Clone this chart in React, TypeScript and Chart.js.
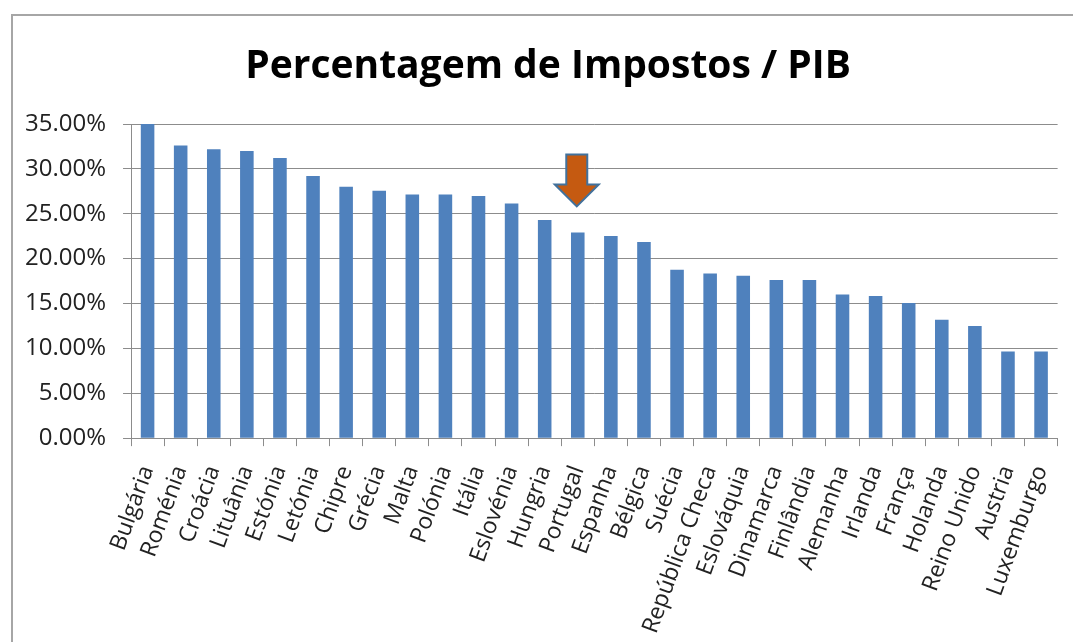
import React, { useEffect, useRef } from "react";
import { Chart, registerables } from "chart.js";

Chart.register(...registerables);

const categories: string[] = [
  "Bulgária", "Roménia", "Croácia", "Lituânia", "Estónia", "Letónia", "Chipre",
  "Grécia", "Malta", "Polónia", "Itália", "Eslovénia", "Hungria", "Portugal",
  "Espanha", "Bélgica", "Suécia", "República Checa", "Eslováquia", "Dinamarca",
  "Finlândia", "Alemanha", "Irlanda", "França", "Holanda", "Reino Unido",
  "Austria", "Luxemburgo",
];

const taxValues: number[] = [
  35.0, 32.6, 32.2, 32.0, 31.2, 29.2, 28.0,
  27.55, 27.14, 27.14, 26.98, 26.13, 24.3, 22.92,
  22.51, 21.84, 18.75, 18.34, 18.08, 17.63,
  17.63, 15.99, 15.84, 15.06, 13.2, 12.5,
  9.65, 9.65,
];

const highlighted = "Portugal";
const chartTitle = "Percentagem de Impostos / PIB";

const framePlugin = {
  id: "frame",
  beforeDraw(chart: any) {
    const ctx = chart.ctx;
    ctx.save();
    ctx.fillStyle = "#ffffff";
    ctx.fillRect(0, 0, chart.width, chart.height);
    ctx.strokeStyle = "#a6a6a6";
    ctx.lineWidth = 2;
    ctx.strokeRect(12, 15, 3000, 3000);
    ctx.restore();
  },
};

const titlePlugin = {
  id: "customTitle",
  afterDraw(chart: any) {
    const ctx = chart.ctx;
    ctx.save();
    ctx.fillStyle = "#000000";
    ctx.font = "bold 39px 'Open Sans'";
    ctx.textAlign = "center";
    ctx.textBaseline = "alphabetic";
    ctx.fillText(chartTitle, 548, 78);
    ctx.restore();
  },
};

const arrowPlugin = {
  id: "arrowMarker",
  afterDatasetsDraw(chart: any) {
    const idx = categories.indexOf(highlighted);
    if (idx < 0) return;
    const xs = chart.scales.x;
    const ys = chart.scales.y;
    const cx = xs.getPixelForValue(idx) - 1;
    const barTop = ys.getPixelForValue(taxValues[idx]);
    const tip = barTop - 26;
    const headH = 22;
    const headHalf = 22;
    const shaftHalf = 10.5;
    const shaftTop = tip - 52;
    const ctx = chart.ctx;
    ctx.save();
    ctx.beginPath();
    ctx.moveTo(cx - shaftHalf, shaftTop);
    ctx.lineTo(cx + shaftHalf, shaftTop);
    ctx.lineTo(cx + shaftHalf, tip - headH);
    ctx.lineTo(cx + headHalf, tip - headH);
    ctx.lineTo(cx, tip);
    ctx.lineTo(cx - headHalf, tip - headH);
    ctx.lineTo(cx - shaftHalf, tip - headH);
    ctx.closePath();
    ctx.fillStyle = "#C55A11";
    ctx.fill();
    ctx.strokeStyle = "#41719C";
    ctx.lineWidth = 2;
    ctx.lineJoin = "miter";
    ctx.stroke();
    ctx.restore();
  },
};

export default function App() {
  const ref = useRef<HTMLCanvasElement | null>(null);

  useEffect(() => {
    if (!ref.current) return;
    const chart = new Chart(ref.current, {
      type: "bar",
      data: {
        labels: categories,
        datasets: [
          {
            data: taxValues,
            backgroundColor: "#4F81BD",
            borderWidth: 0,
            barPercentage: 0.41,
            categoryPercentage: 1,
          },
        ],
      },
      options: {
        responsive: false,
        animation: false,
        layout: { padding: { left: 8, right: 0, top: 124, bottom: 7 } },
        plugins: {
          legend: { display: false },
          tooltip: { enabled: false },
          title: { display: false },
        },
        scales: {
          x: {
            grid: {
              display: true,
              drawOnChartArea: false,
              drawTicks: true,
              tickLength: 8,
              color: "#8c8c8c",
              offset: true,
            },
            border: { display: true, color: "#8c8c8c", width: 1 },
            ticks: {
              autoSkip: false,
              maxRotation: 70,
              minRotation: 70,
              padding: 16,
              color: "#222222",
              font: { family: "Open Sans", size: 23 },
            },
          },
          y: {
            min: 0,
            max: 35,
            grid: {
              color: "#8c8c8c",
              lineWidth: 1,
              tickLength: 8,
            },
            border: { display: true, color: "#8c8c8c", width: 1 },
            ticks: {
              stepSize: 5,
              padding: 17,
              color: "#222222",
              font: { family: "Open Sans", size: 24 },
              callback: (v: any) => Number(v).toFixed(2) + "%",
            },
          },
        },
      },
      plugins: [framePlugin, arrowPlugin, titlePlugin],
    });
    return () => chart.destroy();
  }, []);

  return (
    <div style={{ position: "absolute", left: 0, top: 0, width: 1073, height: 642, overflow: "hidden" }}>
      <canvas ref={ref} width={1083} height={660} style={{ display: "block" }} />
    </div>
  );
}
